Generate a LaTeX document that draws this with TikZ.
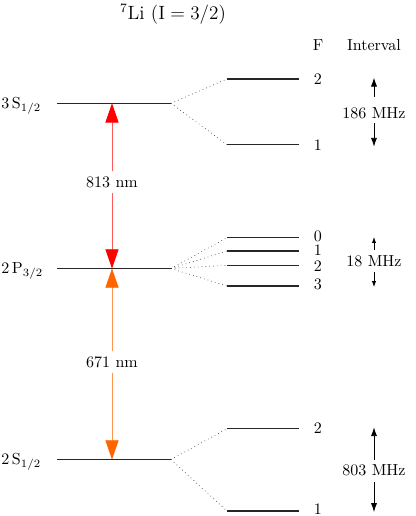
\documentclass[tikz,border=0pt]{standalone}
\usetikzlibrary{arrows.meta}
\definecolor{myred}{RGB}{255,0,0}
\definecolor{myredline}{RGB}{255,90,90}
\definecolor{myorange}{RGB}{255,102,0}
\definecolor{myorangeline}{RGB}{255,150,80}
\begin{document}
\begin{tikzpicture}[x=0.625pt,y=-0.625pt,
  level/.style={line width=0.8pt, black!85},
  split/.style={dotted, line width=0.4pt, black!80},
  lbl/.style={inner sep=0pt},
  wave/.style={inner sep=3pt},
  redarrow/.style={line width=0.55pt, myredline, -{Triangle[width=8.2pt,length=12pt,color=myred]}},
  orangearrow/.style={line width=0.55pt, myorangeline, -{Triangle[width=8.2pt,length=12pt,color=myorange]}},
  bigint/.style={line width=0.5pt, -{Latex[width=3.8pt,length=5.5pt]}},
  smallint/.style={line width=0.5pt, -{Latex[width=2.6pt,length=3.6pt]}}]
\useasboundingbox (0,0) rectangle (415,516);

% title and headers
\node[lbl, font=\large] (title) at (173,14) {$^{7}$Li $(\mathrm{I}=3/2)$};
\node[lbl] (Fhead) at (318,45) {F};
\node[lbl] (Ihead) at (374,45) {Interval};

% ---------- 3S1/2 ----------
\coordinate (S3a) at (57.5,103.3);
\coordinate (S3b) at (171,103.3);
\coordinate (S3r) at (112,103.3);
\node[lbl, anchor=base west] (S3lab) at (1,108.6) {$3\,\mathrm{S}_{1/2}$};
\draw[level] (S3a) -- (S3b);
\coordinate (S3f2a) at (227,79);   \coordinate (S3f2b) at (299.5,79);
\coordinate (S3f1a) at (227,144.7); \coordinate (S3f1b) at (299.5,144.7);
\draw[level] (S3f2a) -- (S3f2b);
\draw[level] (S3f1a) -- (S3f1b);
\draw[split] (S3b) -- (S3f2a);
\draw[split] (S3b) -- (S3f1a);
\node[lbl] (S3F2) at (318,79) {2};
\node[lbl] (S3F1) at (318,145) {1};
\node[lbl] (I186) at (374,113) {186 MHz};
\coordinate (I186ut) at (374,96.7); \coordinate (I186uh) at (374,77.7);
\coordinate (I186dt) at (374,123);  \coordinate (I186dh) at (374,146.7);
\draw[bigint] (I186ut) -- (I186uh);
\draw[bigint] (I186dt) -- (I186dh);

% ---------- 2P3/2 ----------
\coordinate (P2a) at (57.5,268.5);
\coordinate (P2b) at (171,268.5);
\coordinate (P2r) at (112,268.5);
\node[lbl, anchor=base west] (P2lab) at (1,273.8) {$2\,\mathrm{P}_{3/2}$};
\draw[level] (P2a) -- (P2b);
\coordinate (P2f0a) at (227,237.7); \coordinate (P2f0b) at (299.5,237.7);
\coordinate (P2f1a) at (227,251);   \coordinate (P2f1b) at (299.5,251);
\coordinate (P2f2a) at (227,265.3); \coordinate (P2f2b) at (299.5,265.3);
\coordinate (P2f3a) at (227,286);   \coordinate (P2f3b) at (299.5,286);
\draw[level] (P2f0a) -- (P2f0b);
\draw[level] (P2f1a) -- (P2f1b);
\draw[level] (P2f2a) -- (P2f2b);
\draw[level] (P2f3a) -- (P2f3b);
\draw[split] (P2b) -- (P2f0a);
\draw[split] (P2b) -- (P2f1a);
\draw[split] (P2b) -- (P2f2a);
\draw[split] (P2b) -- (P2f3a);
\node[lbl] (P2F0) at (318,236) {0};
\node[lbl] (P2F1) at (318,250.5) {1};
\node[lbl] (P2F2) at (318,266.5) {2};
\node[lbl] (P2F3) at (318,284.7) {3};
\node[lbl] (I18) at (374,261) {18 MHz};
\coordinate (I18ut) at (374,250); \coordinate (I18uh) at (374,237);
\coordinate (I18dt) at (374,272); \coordinate (I18dh) at (374,287);
\draw[smallint] (I18ut) -- (I18uh);
\draw[smallint] (I18dt) -- (I18dh);

% ---------- 2S1/2 ----------
\coordinate (S2a) at (57.5,459.5);
\coordinate (S2b) at (171,459.5);
\coordinate (S2r) at (112,459.5);
\node[lbl, anchor=base west] (S2lab) at (1,464.4) {$2\,\mathrm{S}_{1/2}$};
\draw[level] (S2a) -- (S2b);
\coordinate (S2f2a) at (227,428.7); \coordinate (S2f2b) at (299.5,428.7);
\coordinate (S2f1a) at (227,511);   \coordinate (S2f1b) at (299.5,511);
\draw[level] (S2f2a) -- (S2f2b);
\draw[level] (S2f1a) -- (S2f1b);
\draw[split] (S2b) -- (S2f2a);
\draw[split] (S2b) -- (S2f1a);
\node[lbl] (S2F2) at (318,428) {2};
\node[lbl] (S2F1) at (318,509.3) {1};
\node[lbl] (I803) at (374,470) {803 MHz};
\coordinate (I803ut) at (374,460); \coordinate (I803uh) at (374,427.3);
\coordinate (I803dt) at (374,482); \coordinate (I803dh) at (374,512);
\draw[bigint] (I803ut) -- (I803uh);
\draw[bigint] (I803dt) -- (I803dh);

% ---------- transitions ----------
\node[wave] (w813) at (112,182) {813 nm};
\draw[redarrow] (w813) -- (S3r);
\draw[redarrow] (w813) -- (P2r);
\node[wave] (w671) at (112,362) {671 nm};
\draw[orangearrow] (w671) -- (P2r);
\draw[orangearrow] (w671) -- (S2r);
\end{tikzpicture}
\end{document}
